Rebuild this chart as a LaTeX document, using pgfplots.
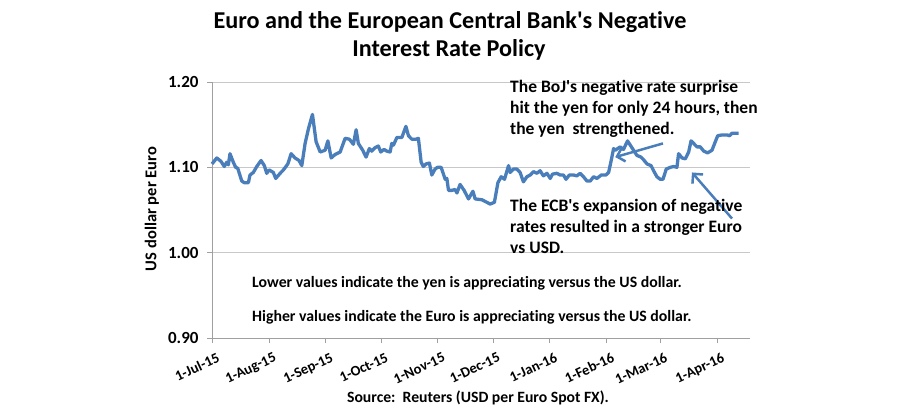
\documentclass[border=0pt]{standalone}
\usepackage{pgfplots}
\pgfplotsset{compat=1.18}
\usepackage{fontspec}
\setmainfont{Carlito}[Ligatures={NoCommon}]
\usetikzlibrary{arrows.meta}
\definecolor{fxblue}{HTML}{4A7EBB}
\definecolor{gridgray}{HTML}{C8C8C8}
\definecolor{axgray}{HTML}{A0A0A0}
\newcommand{\q}{\textquotesingle}

\begin{document}
\begin{tikzpicture}
\path[use as bounding box] (0,0) rectangle (900bp,-420bp);
\begin{axis}[
    at={(212bp,-338bp)}, anchor=south west,
    scale only axis, width=538bp, height=256bp,
    xmin=0, xmax=293, ymin=0.9, ymax=1.2,
    axis x line*=bottom, axis y line*=left,
    axis line style={axgray, line width=0.8bp},
    ytick={0.9,1.0,1.1,1.2},
    xtick={0,31,62,92,123,153,184,215,244,275},
    xticklabels={1-Jul-15,1-Aug-15,1-Sep-15,1-Oct-15,1-Nov-15,1-Dec-15,1-Jan-16,1-Feb-16,1-Mar-16,1-Apr-16},
    ymajorgrids, grid style={gridgray, line width=0.8bp},
    tick align=outside, major tick length=5bp,
    tick style={axgray, line width=0.8bp},
    /pgf/number format/assume math mode=true,
    yticklabel style={font=\bfseries\fontsize{17bp}{20bp}\selectfont, xshift=-5bp,
      /pgf/number format/.cd, fixed, fixed zerofill, precision=2},
    xticklabel style={font=\bfseries\fontsize{14.5bp}{17bp}\selectfont,
      rotate=25, anchor=north east, inner sep=1bp, yshift=-9bp, xshift=1bp},
    clip=false,
  ]
  \addplot[fxblue, line width=3.3bp, line join=round] table {
x y
0 1.104
2.6 1.111
4.9 1.107
6.7 1.101
8.0 1.106
8.9 1.103
9.8 1.116
11.6 1.106
12.9 1.100
14.0 1.099
16.2 1.084
17.6 1.082
19.8 1.082
20.7 1.091
22.5 1.094
24.4 1.101
26.7 1.108
28.5 1.102
29.8 1.093
31.1 1.097
33.4 1.094
34.7 1.087
37.1 1.093
38.9 1.097
41.3 1.104
43.1 1.116
45.2 1.111
47.4 1.108
48.9 1.102
50.7 1.128
52.5 1.145
54.7 1.162
56.7 1.130
58.9 1.118
61.6 1.120
63.1 1.131
64.9 1.111
67.0 1.115
69.8 1.118
72.5 1.134
74.8 1.133
77.0 1.127
78.5 1.144
79.7 1.128
82.1 1.120
83.9 1.112
85.7 1.122
87.0 1.119
88.8 1.123
90.6 1.125
91.9 1.118
93.7 1.121
95.2 1.119
97.0 1.118
97.9 1.128
98.8 1.126
100.7 1.135
103.4 1.135
105.6 1.148
107.0 1.137
108.8 1.133
111.2 1.133
112.4 1.134
113.9 1.106
115.1 1.101
116.6 1.104
118.4 1.105
119.7 1.091
121.5 1.098
122.8 1.100
124.8 1.100
127.0 1.086
127.9 1.087
128.8 1.073
130.6 1.073
132.4 1.074
133.4 1.070
135.1 1.080
137.3 1.073
139.7 1.063
142.1 1.072
143.3 1.063
147.0 1.062
151.5 1.057
153.8 1.059
155.7 1.082
157.5 1.089
159.3 1.086
161.5 1.102
162.4 1.094
164.2 1.098
166.0 1.098
167.8 1.094
169.6 1.083
171.5 1.089
173.3 1.091
175.1 1.095
176.9 1.093
178.7 1.096
180.5 1.090
182.4 1.093
184.2 1.087
185.4 1.092
187.8 1.093
189.6 1.091
191.4 1.091
192.8 1.086
194.6 1.091
196.9 1.091
198.7 1.090
200.5 1.093
202.3 1.089
204.2 1.084
206.0 1.084
207.8 1.089
209.6 1.087
212.0 1.091
214.5 1.091
216.0 1.094
217.4 1.108
218.7 1.122
219.6 1.120
222.3 1.124
224.1 1.121
226.3 1.131
227.8 1.126
229.6 1.120
231.4 1.114
233.6 1.112
235.0 1.109
236.9 1.104
239.1 1.102
240.5 1.096
242.3 1.089
244.1 1.086
245.6 1.086
247.4 1.098
249.6 1.100
251.4 1.101
253.2 1.100
254.1 1.116
256.0 1.111
257.8 1.110
259.6 1.118
260.9 1.131
262.3 1.128
264.1 1.124
265.9 1.124
267.8 1.119
269.9 1.117
272.3 1.120
274.1 1.130
275.4 1.137
277.8 1.138
280.5 1.138
281.9 1.137
283.2 1.140
285.0 1.140
286.8 1.140
  };
  % annotation arrows
  \draw[fxblue, line width=2.5bp, -{Straight Barb[length=7bp,width=14bp]}]
    (axis cs:245.6,1.128) -- (axis cs:219.6,1.112);
  \draw[fxblue, line width=2.5bp, -{Straight Barb[length=7bp,width=14bp]}]
    (axis cs:283.2,1.040) -- (axis cs:261.4,1.094);
\end{axis}

% title
\node[font=\bfseries\fontsize{24.2bp}{28bp}\selectfont, inner sep=0] at (450bp,-22bp) {Euro and the European Central Bank\q s Negative};
\node[font=\bfseries\fontsize{24.2bp}{28bp}\selectfont, inner sep=0] at (449bp,-50bp) {Interest Rate Policy};

% y label
\node[font=\bfseries\fontsize{16.5bp}{19bp}\selectfont, rotate=90, inner sep=0] at (152bp,-209bp) {US dollar per Euro};

% annotations
\begin{scope}[every node/.style={font=\bfseries\fontsize{17.5bp}{20bp}\selectfont, inner sep=0, anchor=west}]
\node at (510bp,-88bp) {The BoJ\q s negative rate surprise};
\node at (510bp,-109bp) {hit the yen for only 24 hours, then};
\node at (510bp,-130bp) {the yen\ \ strengthened.};
\node at (510bp,-207bp) {The ECB\q s expansion of negative};
\node at (510bp,-228bp) {rates resulted in a stronger Euro};
\node at (510bp,-248bp) {vs USD.};
\end{scope}

\begin{scope}[every node/.style={font=\bfseries\fontsize{15.8bp}{18bp}\selectfont, inner sep=0, anchor=west}]
\node at (252bp,-283bp) {Lower values indicate the yen is appreciating versus the US dollar.};
\node at (252bp,-317bp) {Higher values indicate the Euro is appreciating versus the US dollar.};
\end{scope}

\node[font=\bfseries\fontsize{15.7bp}{18bp}\selectfont, inner sep=0] at (478bp,-398bp) {Source:\ \ Reuters (USD per Euro Spot FX).};
\end{tikzpicture}
\end{document}
